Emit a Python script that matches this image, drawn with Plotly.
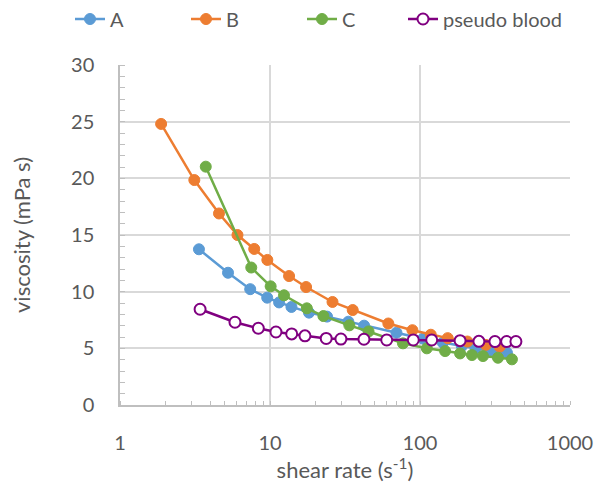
import plotly.graph_objects as go

# Data
a_x = [3.36, 5.25, 7.38, 9.58, 11.5, 13.9, 18.2, 24, 33.3, 42.4, 69.7, 105, 142, 190, 235, 296, 380]
a_y = [13.74, 11.67, 10.22, 9.47, 9.05, 8.65, 8.15, 7.8, 7.35, 7.0, 6.38, 5.85, 5.5, 5.2, 5.0, 4.8, 4.6]

b_x = [1.88, 3.13, 4.57, 6.07, 7.85, 9.6, 13.4, 17.4, 26.1, 35.6, 61.5, 89, 118, 153, 207, 275, 340]
b_y = [24.8, 19.85, 16.9, 15.0, 13.77, 12.8, 11.38, 10.41, 9.09, 8.38, 7.19, 6.6, 6.2, 5.9, 5.6, 5.3, 5.15]

c_x = [3.73, 7.5, 10.1, 12.4, 17.6, 22.7, 33.8, 45.4, 77, 111, 147, 185, 222, 263, 331, 410]
c_y = [21.03, 12.13, 10.47, 9.68, 8.53, 7.85, 7.03, 6.49, 5.44, 5.0, 4.76, 4.55, 4.41, 4.32, 4.17, 4.03]

p_x = [3.42, 5.84, 8.36, 10.96, 13.95, 17.1, 23.7, 29.7, 42.3, 60, 90.2, 119.7, 185, 247, 316, 378, 436]
p_y = [8.45, 7.3, 6.77, 6.44, 6.27, 6.1, 5.87, 5.82, 5.8, 5.74, 5.74, 5.74, 5.68, 5.62, 5.6, 5.6, 5.6]

x_tickvals = [1, 10, 100, 1000]
x_ticktext = ["1", "10", "100", "1000"]
y_tickvals = [0, 5, 10, 15, 20, 25, 30]

FONT = "Lato"
GREY = "#595959"
W, H = 598, 483  # page body has an 8px margin

fig = go.Figure()
series = [
    ("A", a_x, a_y, "#5B9BD5"),
    ("B", b_x, b_y, "#ED7D31"),
    ("C", c_x, c_y, "#70AD47"),
]
for name, xs, ys, col in series:
    fig.add_trace(go.Scatter(
        x=xs, y=ys, name=name, mode="lines+markers", legend="legend",
        line=dict(color=col, width=2.5),
        marker=dict(color=col, size=11, line=dict(color=col, width=1)),
    ))
fig.add_trace(go.Scatter(
    x=p_x, y=p_y, name="pseudo blood", mode="lines+markers", legend="legend2",
    line=dict(color="#800080", width=2.5),
    marker=dict(color="white", size=11, line=dict(color="#800080", width=2)),
))

leg_common = dict(
    orientation="h", yanchor="middle", yref="container", xref="container",
    font=dict(family=FONT, size=20, color=GREY), itemwidth=30, tracegroupgap=0,
    bgcolor="rgba(0,0,0,0)",
)

fig.update_layout(
    width=W, height=H,
    margin=dict(l=112, r=36, t=57, b=86, autoexpand=False),
    paper_bgcolor="white", plot_bgcolor="white",
    font=dict(family=FONT, color=GREY, size=20),
    showlegend=True,
    legend=dict(x=62 / W, xanchor="left", y=1 - 11 / H,
                entrywidth=71, entrywidthmode="pixels", **leg_common),
    legend2=dict(x=395 / W, xanchor="left", y=1 - 11 / H, **leg_common),
    xaxis=dict(
        type="log", range=[0, 3],
        tickvals=x_tickvals, ticktext=x_ticktext,
        showgrid=True, gridcolor="#d9d9d9", gridwidth=1.5,
        showline=True, linecolor="#bfbfbf", linewidth=1.5,
        ticks="", ticklabelstandoff=19,
        minor=dict(ticks="inside", ticklen=4, tickcolor="#bfbfbf", dtick="D1", showgrid=False),
        title=dict(text="shear rate (s<sup>-1</sup>)", font=dict(size=22, color=GREY), standoff=10),
        zeroline=False,
    ),
    yaxis=dict(
        range=[0, 30], tickvals=y_tickvals,
        showgrid=True, gridcolor="#d9d9d9", gridwidth=1.5,
        showline=True, linecolor="#bfbfbf", linewidth=1.5,
        ticks="", ticklabelstandoff=20,
        minor=dict(ticks="inside", ticklen=5, tickcolor="#bfbfbf", dtick=1, showgrid=False),
        title=dict(text="viscosity (mPa s)", font=dict(size=22, color=GREY), standoff=40),
        zeroline=False,
    ),
)

fig.write_html("out.html")
